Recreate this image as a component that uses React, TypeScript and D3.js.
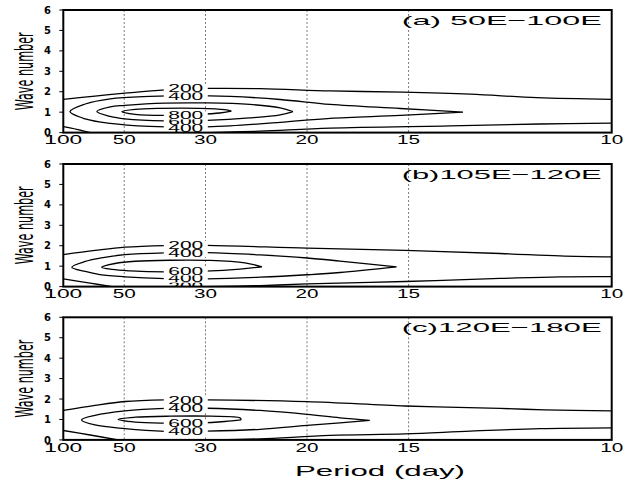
import React from "react";
import * as d3 from "d3";

type Pt = [number, number]; // [frequency (1/day), wave number]
interface Contour { level: number; pts: Pt[] }
interface CLabel { level: number; f: number; k: number }

const periodTicks = [100, 50, 30, 20, 15, 10];
const gridPeriods = [50, 30, 20, 15];
const waveTicks = [0, 1, 2, 3, 4, 5, 6];
const panelTitles = ["(a) 50E\u2212100E", "(b)105E\u2212120E", "(c)120E\u2212180E"];

// ---------- Panel (a) 50E-100E ----------
const a200Top: Pt[] = [[0.01, 1.63], [0.0152, 1.79], [0.0201, 1.93], [0.0267, 2.09], [0.0336, 2.16], [0.0423, 2.15], [0.0538, 2.04], [0.0657, 1.98], [0.0768, 1.88], [0.0877, 1.71], [0.1, 1.63]];
const a200BotLeft: Pt[] = [[0.01, 0.29], [0.0122, 0.16], [0.0144, 0.0]];
const a200BotRight: Pt[] = [[0.0341, 0.0], [0.0423, 0.07], [0.0538, 0.22], [0.0735, 0.33], [0.0882, 0.42], [0.1, 0.46]];
const a400: Pt[] = [[0.0756, 1.0], [0.0653, 1.18], [0.0538, 1.38], [0.0456, 1.62], [0.0374, 1.77], [0.0303, 1.81], [0.0242, 1.77], [0.0177, 1.65], [0.0136, 1.4], [0.0111, 1.03], [0.0136, 0.67], [0.0177, 0.45], [0.0242, 0.3], [0.0303, 0.26], [0.0374, 0.33], [0.0456, 0.5], [0.0538, 0.7], [0.0653, 0.84], [0.0756, 1.0]];
const a600: Pt[] = [[0.0477, 1.03], [0.0456, 1.21], [0.0406, 1.38], [0.0336, 1.45], [0.0267, 1.44], [0.0201, 1.33], [0.0177, 1.26], [0.0155, 1.03], [0.0177, 0.79], [0.0201, 0.67], [0.0267, 0.57], [0.0336, 0.6], [0.0406, 0.72], [0.0456, 0.87], [0.0477, 1.03]];
const a800: Pt[] = [[0.0376, 1.05], [0.0365, 1.12], [0.0324, 1.19], [0.0259, 1.19], [0.0218, 1.14], [0.0196, 1.03], [0.0218, 0.89], [0.0267, 0.84], [0.0324, 0.89], [0.0357, 0.96], [0.0376, 1.05]];
const labelsA: CLabel[] = [
  { level: 400, f: 0.0301, k: 0.21 },
  { level: 600, f: 0.0301, k: 0.57 },
  { level: 800, f: 0.0301, k: 0.84 },
  { level: 400, f: 0.0301, k: 1.79 },
  { level: 200, f: 0.0301, k: 2.16 },
];

// ---------- Panel (b) 105E-120E ----------
const b200Top: Pt[] = [[0.01, 1.57], [0.0152, 1.77], [0.0201, 1.93], [0.0267, 2.01], [0.0336, 2.02], [0.05, 1.88], [0.0661, 1.77], [0.0817, 1.62], [0.0915, 1.5], [0.1, 1.45]];
const b200BotLeft: Pt[] = [[0.01, 0.38], [0.0144, 0.17], [0.018, 0.0]];
const b200BotRight: Pt[] = [[0.0332, 0.0], [0.0423, 0.05], [0.05, 0.13], [0.0661, 0.25], [0.0817, 0.4], [0.0915, 0.48], [0.1, 0.49]];
const b400: Pt[] = [[0.0647, 0.97], [0.0554, 1.25], [0.05, 1.4], [0.0423, 1.55], [0.0336, 1.66], [0.0267, 1.65], [0.0201, 1.56], [0.016, 1.39], [0.0136, 1.23], [0.0114, 0.95], [0.0136, 0.74], [0.016, 0.59], [0.0201, 0.48], [0.0267, 0.39], [0.0336, 0.38], [0.0423, 0.46], [0.05, 0.58], [0.0554, 0.69], [0.0647, 0.97]];
const b600: Pt[] = [[0.0426, 0.97], [0.0398, 1.16], [0.0341, 1.28], [0.0275, 1.29], [0.0218, 1.24], [0.0185, 1.13], [0.0163, 0.95], [0.018, 0.84], [0.021, 0.77], [0.0267, 0.72], [0.0333, 0.76], [0.039, 0.86], [0.0426, 0.97]];
const labelsB: CLabel[] = [
  { level: 200, f: 0.0301, k: 0.02 },
  { level: 400, f: 0.0301, k: 0.39 },
  { level: 600, f: 0.0301, k: 0.74 },
  { level: 400, f: 0.0301, k: 1.65 },
  { level: 200, f: 0.0301, k: 2.04 },
];

// ---------- Panel (c) 120E-180E ----------
const c200Top: Pt[] = [[0.01, 1.44], [0.0152, 1.69], [0.0201, 1.88], [0.0267, 1.96], [0.0336, 1.96], [0.05, 1.87], [0.0661, 1.66], [0.0817, 1.54], [0.089, 1.47], [0.1, 1.42]];
const c200BotLeft: Pt[] = [[0.01, 0.46], [0.0144, 0.24], [0.019, 0.0]];
const c200BotRight: Pt[] = [[0.0349, 0.0], [0.0423, 0.05], [0.0538, 0.22], [0.0661, 0.29], [0.0768, 0.43], [0.0882, 0.55], [0.1, 0.59]];
const c400: Pt[] = [[0.0603, 0.96], [0.0554, 1.08], [0.05, 1.25], [0.0423, 1.44], [0.0336, 1.55], [0.0267, 1.54], [0.0201, 1.42], [0.0152, 1.2], [0.013, 0.98], [0.0152, 0.73], [0.0201, 0.55], [0.0267, 0.42], [0.0336, 0.43], [0.0423, 0.52], [0.05, 0.71], [0.0554, 0.83], [0.0603, 0.96]];
const c600: Pt[] = [[0.0392, 0.98], [0.039, 1.08], [0.0341, 1.16], [0.0275, 1.16], [0.0218, 1.11], [0.019, 1.01], [0.0218, 0.87], [0.0267, 0.82], [0.0324, 0.83], [0.0365, 0.9], [0.0392, 0.98]];
const labelsC: CLabel[] = [
  { level: 400, f: 0.0301, k: 0.42 },
  { level: 600, f: 0.0301, k: 0.81 },
  { level: 400, f: 0.0301, k: 1.55 },
  { level: 200, f: 0.0301, k: 1.96 },
];

const contoursA: Contour[] = [
  { level: 200, pts: a200Top }, { level: 200, pts: a200BotLeft }, { level: 200, pts: a200BotRight },
  { level: 400, pts: a400 }, { level: 600, pts: a600 }, { level: 800, pts: a800 },
];
const contoursB: Contour[] = [
  { level: 200, pts: b200Top }, { level: 200, pts: b200BotLeft }, { level: 200, pts: b200BotRight },
  { level: 400, pts: b400 }, { level: 600, pts: b600 },
];
const contoursC: Contour[] = [
  { level: 200, pts: c200Top }, { level: 200, pts: c200BotLeft }, { level: 200, pts: c200BotRight },
  { level: 400, pts: c400 }, { level: 600, pts: c600 },
];

const panels = [
  { title: panelTitles[0], contours: contoursA, labels: labelsA },
  { title: panelTitles[1], contours: contoursB, labels: labelsB },
  { title: panelTitles[2], contours: contoursC, labels: labelsC },
];

const W = 631, H = 482;
const LEFT = 63.3, RIGHT = 611.7;
const TOPS = [10, 164, 317.3];
const PH = 122.6;
const NUM_FONT = "'Liberation Sans', 'DejaVu Sans', sans-serif";

export default function App() {
  const x = d3.scaleLinear().domain([0.01, 0.1]).range([LEFT, RIGHT]);
  return (
    <svg width={W} height={H} style={{ position: "absolute", left: 0, top: 0, background: "#fff" }}>
      <rect x={0} y={0} width={W} height={H} fill="#fff" />
      {panels.map((p, i) => {
        const top = TOPS[i];
        const y = d3.scaleLinear().domain([0, 6]).range([top + PH, top]);
        const line = d3.line<Pt>().x((d) => x(d[0])).y((d) => y(d[1])).curve(d3.curveCatmullRom.alpha(0.5));
        const clipId = `clip${i}`;
        return (
          <g key={i}>
            <defs>
              <clipPath id={clipId}>
                <rect x={LEFT} y={top} width={RIGHT - LEFT} height={PH} />
              </clipPath>
            </defs>
            {gridPeriods.map((g) => (
              <line key={g} x1={x(1 / g)} x2={x(1 / g)} y1={top} y2={top + PH} stroke="#444" strokeWidth={0.7} strokeDasharray="2,2" />
            ))}
            <g clipPath={`url(#${clipId})`}>
              {p.contours.map((c, j) => (
                <path key={j} d={line(c.pts) || ""} fill="none" stroke="#000" strokeWidth={1.3} />
              ))}
              {p.labels.map((l, j) => (
                <g key={"l" + j} transform={`translate(${x(l.f)},${y(l.k)})`}>
                  <rect x={-22} y={-4} width={44} height={8} fill="#fff" />
                  <text x={0} y={0} dy="0.36em" textAnchor="middle" fontFamily={NUM_FONT} fontSize={10.5}
                    textLength={35} lengthAdjust="spacingAndGlyphs" fill="#000">{l.level}</text>
                </g>
              ))}
            </g>
            <rect x={LEFT} y={top} width={RIGHT - LEFT} height={PH} fill="none" stroke="#000" strokeWidth={2} />
            {waveTicks.map((t) => (
              <g key={t}>
                <line x1={LEFT - 4} x2={LEFT} y1={y(t)} y2={y(t)} stroke="#000" strokeWidth={1} />
                <text x={51} y={y(t)} dy="0.36em" textAnchor="end" fontFamily="'DejaVu Sans', sans-serif" fontWeight="bold" fontSize={10} fill="#000">{t}</text>
              </g>
            ))}
            {periodTicks.map((t) => {
              const s = String(t);
              return (
                <text key={t} x={x(1 / t)} y={top + PH + 11.6} textAnchor="middle" fontFamily={NUM_FONT} fontSize={13}
                  textLength={s.length === 3 ? 38 : 23} lengthAdjust="spacingAndGlyphs" fill="#000">{s}</text>
              );
            })}
            <text x={601.7} y={top + 15} textAnchor="end" fontFamily={NUM_FONT} fontSize={13.5} textLength={200}
              lengthAdjust="spacingAndGlyphs" fill="#000">{p.title}</text>
            <text transform={`translate(33,${top + PH / 2}) rotate(-90)`} textAnchor="middle"
              fontFamily="'Liberation Sans Narrow', 'DejaVu Sans Condensed', 'Liberation Sans', sans-serif" fontSize={24}
              textLength={78} lengthAdjust="spacingAndGlyphs" fill="#000">Wave number</text>
          </g>
        );
      })}
      <text x={295} y={476} fontFamily={NUM_FONT} fontSize={14.5} textLength={170} lengthAdjust="spacingAndGlyphs" fill="#000">Period (day)</text>
    </svg>
  );
}
